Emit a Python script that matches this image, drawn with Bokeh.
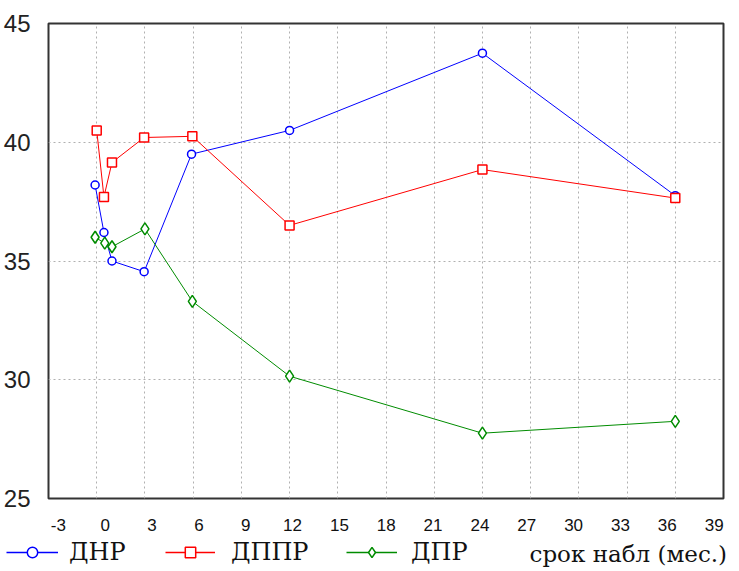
from bokeh.plotting import figure
from bokeh.layouts import column
from bokeh.models import (Range1d, LinearAxis, FixedTicker, Grid, Legend, LegendItem, Label)
from bokeh.embed import file_html
from bokeh.resources import INLINE

# ---- data ----
months_dnr = [-0.1, 0.45, 0.95, 2.95, 5.9, 12, 24, 36]
dnr = [38.2, 36.2, 35.0, 34.55, 39.5, 40.5, 43.75, 37.75]

months_dppr = [0.0, 0.45, 0.95, 2.95, 5.95, 12, 24, 36]
dppr = [40.5, 37.7, 39.15, 40.2, 40.25, 36.5, 38.85, 37.65]

months_dpr = [-0.1, 0.5, 0.95, 3.0, 5.95, 12, 24, 36]
dpr = [36.0, 35.75, 35.6, 36.35, 33.3, 30.15, 27.75, 28.25]

x_ticks = [-3, 0, 3, 6, 9, 12, 15, 18, 21, 24, 27, 30, 33, 36, 39]
y_ticks = [25, 30, 35, 40, 45]
series_names = ["ДНР", "ДППР", "ДПР"]
x_title = "срок набл  (мес.)"

blue, red, green = "#0000ff", "#ff0000", "#008c00"
styles = [
    dict(color=blue, marker="circle", size=8, lsize=6),
    dict(color=red, marker="square", size=9, lsize=7),
    dict(color=green, marker="diamond", size=12, lsize=9),
]

p = figure(width=730, height=538, output_backend="svg", toolbar_location=None,
           x_range=Range1d(-3, 39), y_range=Range1d(25, 45),
           x_axis_location=None, y_axis_location="left",
           min_border_left=40, min_border_right=7, min_border_top=23, min_border_bottom=40)

p.outline_line_color = "#333333"
p.outline_line_width = 2
p.background_fill_color = "white"

# y axis
ya = p.yaxis[0]
ya.ticker = FixedTicker(ticks=y_ticks)
ya.axis_line_color = None
ya.major_tick_line_color = None
ya.minor_tick_line_color = None
ya.major_label_text_font = "Liberation Sans"
ya.major_label_text_font_size = "24px"
ya.major_label_text_color = "#222222"
ya.major_label_standoff = 12

p.ygrid.grid_line_color = "#b0b0b0"
p.ygrid.grid_line_dash = "2 3"
p.xgrid.visible = False

# x grid
xg = Grid(dimension=0, ticker=FixedTicker(ticks=x_ticks), grid_line_color="#b0b0b0", grid_line_dash="2 3")
p.add_layout(xg)

# x tick labels (Statistica-like placement)
p.extra_x_ranges = {"lab": Range1d(-3.63, 39.6)}
xa = LinearAxis(x_range_name="lab", ticker=FixedTicker(ticks=x_ticks))
xa.axis_line_color = None
xa.major_tick_line_color = None
xa.minor_tick_line_color = None
xa.major_label_text_font = "Liberation Sans"
xa.major_label_text_font_size = "17px"
xa.major_label_text_color = "#111111"
xa.major_label_standoff = 14
xa.major_label_overrides = {t: str(t) for t in x_ticks}
p.add_layout(xa, "below")

series = [(months_dnr, dnr), (months_dppr, dppr), (months_dpr, dpr)]
for (xs, ys), st in zip(series, styles):
    p.line(xs, ys, line_color=st["color"], line_width=1)
    p.scatter(xs, ys, marker=st["marker"], size=st["size"], line_color=st["color"],
              fill_color="white", line_width=1.5)

# ---- legend strip below the chart ----
lf = figure(width=730, height=32, output_backend="svg", toolbar_location=None,
            x_range=Range1d(0, 1), y_range=Range1d(0, 1),
            x_axis_location=None, y_axis_location=None, min_border=0)
if "frame_align" in lf.properties():
    lf.frame_align = False
    p.frame_align = False
lf.outline_line_color = None
lf.xgrid.visible = False
lf.ygrid.visible = False

# (glyph left, glyph width, standoff) for each legend entry, in px
leg_pos = [(6, 52, 11), (165, 50, 16), (346, 51, 14)]
for name, st, (gx, gw, gs) in zip(series_names, styles, leg_pos):
    # off-screen dummies only used to draw the legend swatches
    lr = lf.line([-10, -9], [-10, -10], line_color=st["color"], line_width=1.5)
    mr = lf.scatter([-10], [-10], marker=st["marker"], size=st["lsize"], line_color=st["color"],
                    fill_color="white", line_width=1.5)
    lg = Legend(items=[LegendItem(label=name, renderers=[lr, mr])], location=(gx, 4),
                orientation="horizontal", padding=0, margin=0, spacing=0,
                glyph_width=gw, glyph_height=26, label_height=26, label_standoff=gs,
                border_line_alpha=0, background_fill_alpha=0,
                label_text_font="DejaVu Serif", label_text_font_size="24px",
                label_text_color="#111111")
    lf.add_layout(lg, "center")

lf.add_layout(Label(x=529, y=17, x_units="screen", y_units="screen", text=x_title,
                    text_font="DejaVu Serif", text_font_size="23px", text_color="#111111",
                    text_baseline="middle"))

layout = column(p, lf, spacing=0)
open("out.html", "w").write(file_html(layout, INLINE))
